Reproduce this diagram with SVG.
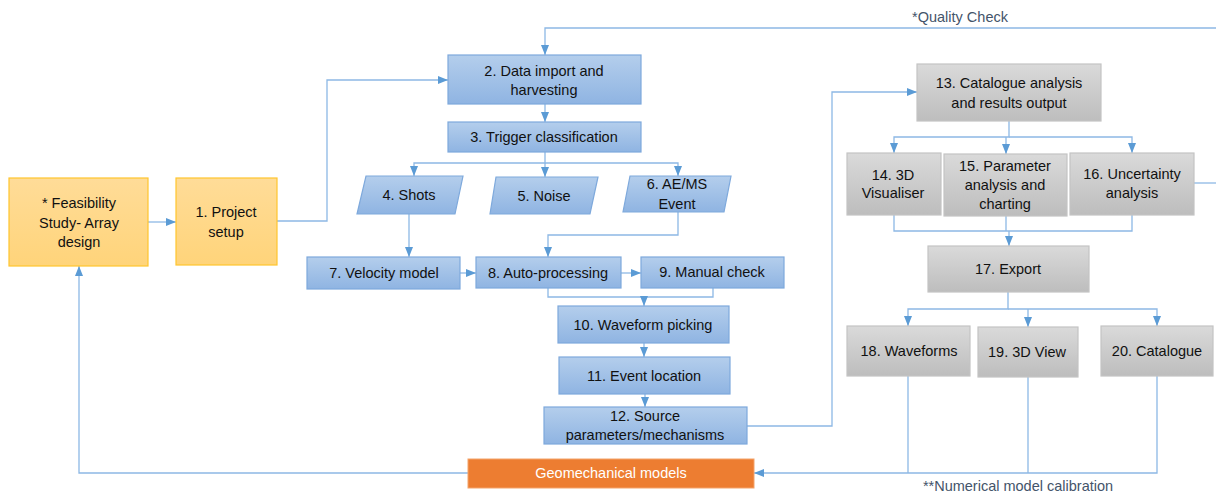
<svg xmlns="http://www.w3.org/2000/svg" width="1216" height="492" viewBox="0 0 1216 492">
<defs>
<linearGradient id="gBlue" x1="0" y1="0" x2="0" y2="1"><stop offset="0" stop-color="#B4CEEC"/><stop offset="1" stop-color="#8FB4E2"/></linearGradient>
<linearGradient id="gGray" x1="0" y1="0" x2="0" y2="1"><stop offset="0" stop-color="#DADADA"/><stop offset="1" stop-color="#BDBDBD"/></linearGradient>
<linearGradient id="gYel" x1="0" y1="0" x2="0" y2="1"><stop offset="0" stop-color="#FFDC98"/><stop offset="1" stop-color="#FFD47A"/></linearGradient>
<marker id="arr" markerUnits="userSpaceOnUse" markerWidth="10" markerHeight="10" viewBox="0 0 10 10" refX="10" refY="5" orient="auto"><path d="M0,1 L10,5 L0,9 Z" fill="#5B9BD5"/></marker>
<style>
.blue{fill:url(#gBlue);stroke:#7EA9DC;stroke-width:1.2}
.gray{fill:url(#gGray);stroke:#C4C4C4;stroke-width:1.2}
.yel{fill:url(#gYel);stroke:#FFC52E;stroke-width:1.2}
.orange{fill:#ED7D31;stroke:#F4A36A;stroke-width:1}
text{font-family:"Liberation Sans",Arial,sans-serif;font-size:14.5px;fill:#111;text-anchor:middle;dominant-baseline:central}
.note{fill:#44546A;font-size:14.5px}
.wt{fill:#FFFFFF}
#connectors path{fill:none;stroke:#8DB8E5;stroke-width:1.3}
#connectors path.a{marker-end:url(#arr)}
</style>
</defs>
<g id="connectors">
<path class="a" d="M148,222 H176"/>
<path class="a" d="M277,221 H327 V80 H448"/>
<path class="a" d="M1216,28 H545 V55"/>
<path d="M1194,183 H1216"/>
<path class="a" d="M545,104 V122"/>
<path class="a" d="M545,152 V163 H414 V176"/>
<path class="a" d="M545,163 V177"/>
<path class="a" d="M545,163 H678 V176"/>
<path class="a" d="M409,214 V257"/>
<path class="a" d="M678,212 V235 H548 V257"/>
<path class="a" d="M460,273 H476"/>
<path class="a" d="M621,273 H641"/>
<path d="M548,288 V297 H713 V288"/>
<path class="a" d="M644,297 V306"/>
<path class="a" d="M644,343 V357"/>
<path class="a" d="M645,394 V407"/>
<path class="a" d="M747,426 H832 V92 H917"/>
<path class="a" d="M1009,121 V137 H894 V153"/>
<path class="a" d="M1009,137 H1132 V153"/>
<path class="a" d="M1006,137 V154"/>
<path d="M894,215 V231 H1132 V215"/>
<path d="M1006,216 V231"/>
<path class="a" d="M1009,231 V246"/>
<path class="a" d="M1008,292 V309 H908 V326"/>
<path class="a" d="M1008,309 H1157 V326"/>
<path class="a" d="M1028,309 V327"/>
<path class="a" d="M1157,376 V473 H754"/>
<path d="M908,376 V473"/>
<path d="M1028,377 V473"/>
<path class="a" d="M468,473 H79 V266"/>
</g>
<text class="note" x="960" y="17">*Quality Check</text>
<text class="note" x="1018" y="486">**Numerical model calibration</text>
<g id="feasibility"><rect class="yel" x="9" y="178" width="139" height="88"/><text x="79" y="203">* Feasibility</text><text x="79" y="223">Study- Array</text><text x="79" y="242">design</text></g>
<g id="n1"><rect class="yel" x="176" y="178" width="101" height="87"/><text x="226" y="212">1. Project</text><text x="226" y="232">setup</text></g>
<g id="n2"><rect class="blue" x="448" y="55" width="193" height="49"/><text x="544" y="71">2. Data import and</text><text x="544" y="90">harvesting</text></g>
<g id="n3"><rect class="blue" x="448" y="122" width="193" height="30"/><text x="544" y="137">3. Trigger classification</text></g>
<g id="n4"><polygon class="blue" points="366,176 463,176 455,214 357,214"/><text x="409" y="195">4. Shots</text></g>
<g id="n5"><polygon class="blue" points="496,177 598,177 590,214 490,214"/><text x="544" y="196">5. Noise</text></g>
<g id="n6"><polygon class="blue" points="630,176 731,176 724,212 623,212"/><text x="677" y="184">6. AE/MS</text><text x="677" y="204">Event</text></g>
<g id="n7"><rect class="blue" x="307" y="257" width="153" height="32"/><text x="384" y="273">7. Velocity model</text></g>
<g id="n8"><rect class="blue" x="476" y="257" width="145" height="31"/><text x="548" y="273">8. Auto-processing</text></g>
<g id="n9"><rect class="blue" x="641" y="257" width="143" height="31"/><text x="712" y="272">9. Manual check</text></g>
<g id="n10"><rect class="blue" x="558" y="306" width="171" height="37"/><text x="643" y="325">10. Waveform picking</text></g>
<g id="n11"><rect class="blue" x="559" y="357" width="171" height="37"/><text x="644" y="376">11. Event location</text></g>
<g id="n12"><rect class="blue" x="544" y="407" width="203" height="37"/><text x="645" y="416">12. Source</text><text x="645" y="435">parameters/mechanisms</text></g>
<g id="geomech"><rect class="orange" x="468" y="459" width="286" height="29"/><text class="wt" x="611" y="473">Geomechanical models</text></g>
<g id="n13"><rect class="gray" x="917" y="64" width="184" height="57"/><text x="1009" y="83">13. Catalogue analysis</text><text x="1009" y="103">and results output</text></g>
<g id="n14"><rect class="gray" x="847" y="153" width="94" height="62"/><text x="893" y="175">14. 3D</text><text x="893" y="193">Visualiser</text></g>
<g id="n15"><rect class="gray" x="944" y="154" width="123" height="62"/><text x="1005" y="166">15. Parameter</text><text x="1005" y="185">analysis and</text><text x="1005" y="204">charting</text></g>
<g id="n16"><rect class="gray" x="1070" y="153" width="124" height="62"/><text x="1132" y="174">16. Uncertainty</text><text x="1132" y="193">analysis</text></g>
<g id="n17"><rect class="gray" x="928" y="246" width="161" height="46"/><text x="1008" y="269">17. Export</text></g>
<g id="n18"><rect class="gray" x="847" y="326" width="123" height="50"/><text x="909" y="351">18. Waveforms</text></g>
<g id="n19"><rect class="gray" x="978" y="327" width="100" height="50"/><text x="1027" y="352">19. 3D View</text></g>
<g id="n20"><rect class="gray" x="1101" y="326" width="112" height="50"/><text x="1157" y="351">20. Catalogue</text></g>
</svg>
